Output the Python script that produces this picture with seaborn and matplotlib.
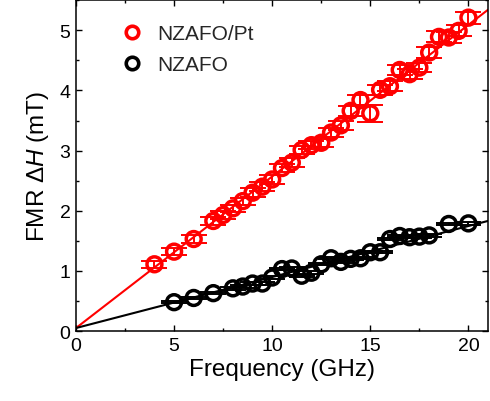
import numpy as np
import matplotlib
matplotlib.use('Agg')
import matplotlib.pyplot as plt
from matplotlib.lines import Line2D
import seaborn as sns

# NZAFO/Pt (red)
pt_freq = [4, 5, 6, 7, 7.5, 8, 8.5, 9, 9.5, 10, 10.5, 11, 11.5, 12, 12.5,
           13, 13.5, 14, 14.5, 15, 15.5, 16, 16.5, 17, 17.5, 18, 18.5, 19, 19.5, 20]
pt_dh = [1.11, 1.32, 1.53, 1.83, 1.93, 2.04, 2.16, 2.30, 2.40, 2.52, 2.71, 2.80, 3.01, 3.09, 3.13,
         3.30, 3.42, 3.66, 3.84, 3.62, 4.01, 4.07, 4.34, 4.27, 4.38, 4.63, 4.89, 4.88, 4.99, 5.21]
pt_err = [0.06, 0.06, 0.06, 0.06, 0.06, 0.06, 0.06, 0.07, 0.07, 0.07, 0.07, 0.07, 0.07, 0.07, 0.07,
          0.08, 0.08, 0.08, 0.08, 0.14, 0.08, 0.08, 0.08, 0.08, 0.08, 0.09, 0.09, 0.09, 0.09, 0.10]

# NZAFO (black)
bare_freq = [5, 6, 7, 8, 8.5, 9, 9.5, 10, 10.5, 11, 11.5, 12, 12.5, 13, 13.5,
             14, 14.5, 15, 15.5, 16, 16.5, 17, 17.5, 18, 19, 20]
bare_dh = [0.48, 0.55, 0.63, 0.71, 0.74, 0.79, 0.79, 0.89, 1.03, 1.04, 0.92, 0.97, 1.11, 1.21, 1.15,
           1.20, 1.21, 1.31, 1.31, 1.53, 1.58, 1.56, 1.57, 1.59, 1.78, 1.79]
bare_err = [0.02] * len(bare_freq)

# linear fits: (intercept, slope)
pt_fit = (0.05, 0.252)
bare_fit = (0.05, 0.0848)

sns.set_theme(style='ticks')
plt.rcParams['font.family'] = ['Liberation Sans', 'DejaVu Sans']
plt.rcParams['mathtext.fontset'] = 'custom'
plt.rcParams['mathtext.rm'] = 'Liberation Sans'
plt.rcParams['mathtext.it'] = 'Liberation Sans:italic'

fig = plt.figure(figsize=(4.9, 4.02), dpi=100)
ax = fig.add_axes([0.155, 0.174, 0.841, 0.823])

for (b, a), col in [(pt_fit, 'red'), (bare_fit, 'black')]:
    ax.axline((0, b), slope=a, color=col, lw=1.5, zorder=2)

for f, d, e, col in [(pt_freq, pt_dh, pt_err, 'red'), (bare_freq, bare_dh, bare_err, 'black')]:
    ax.errorbar(f, d, yerr=e, fmt='none', ecolor=col, elinewidth=1.4,
                capsize=9.5, capthick=1.4, zorder=3)
    sns.scatterplot(x=f, y=d, ax=ax, marker='o', s=115, facecolors='none',
                    edgecolor=col, linewidth=2.5, zorder=4)

ax.set_xlim(0, 21)
ax.set_ylim(0, 5.5)
ax.set_xticks([0, 5, 10, 15, 20])
ax.set_xticks(np.arange(0, 21, 2.5), minor=True)
ax.set_yticks([0, 1, 2, 3, 4, 5])
ax.set_yticks(np.arange(0, 5.6, 0.5), minor=True)
ax.tick_params(which='both', direction='in', top=True, right=True, width=1.0, color='black',
               labelsize=14, labelcolor='black')
ax.tick_params(which='major', length=4.5, pad=4)
ax.tick_params(which='minor', length=2.5)
for s in ax.spines.values():
    s.set_linewidth(1.1)
    s.set_color('black')

ax.set_xlabel('Frequency (GHz)', fontsize=17.5, color='black', labelpad=3)
ax.set_ylabel('FMR Δ$\\mathit{H}$ (mT)', fontsize=17.5, color='black', labelpad=6)

handles = [Line2D([], [], ls='none', marker='o', ms=9, mfc='none', mec='red', mew=2.6),
           Line2D([], [], ls='none', marker='o', ms=9, mfc='none', mec='black', mew=2.6)]
ax.legend(handles, ['NZAFO/Pt', 'NZAFO'], loc='upper left', frameon=False, fontsize=15,
          handletextpad=0.2, labelspacing=0.6, bbox_to_anchor=(0.04, 0.985))

fig.savefig('out.png', dpi=100)
